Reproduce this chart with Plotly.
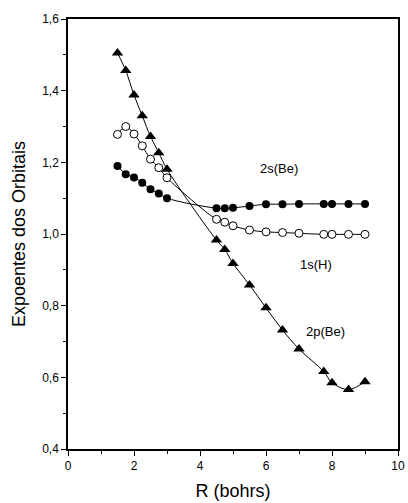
import plotly.graph_objects as go

R = [1.5, 1.75, 2.0, 2.25, 2.5, 2.75, 3.0, 4.5, 4.75, 5.0, 5.5, 6.0, 6.5, 7.0, 7.75, 8.0, 8.5, 9.0]
exp_2s_Be = [1.190, 1.167, 1.158, 1.143, 1.125, 1.113, 1.100, 1.072, 1.072, 1.073, 1.078, 1.083,
             1.083, 1.084, 1.084, 1.084, 1.084, 1.084]
exp_1s_H = [1.278, 1.300, 1.279, 1.246, 1.209, 1.185, 1.157, 1.041, 1.033, 1.023, 1.011, 1.006,
            1.004, 1.002, 0.999, 0.999, 0.999, 0.999]
exp_2p_Be = [1.505, 1.456, 1.388, 1.330, 1.272, 1.227, 1.181, 0.983, 0.957, 0.918, 0.858, 0.794,
             0.732, 0.679, 0.616, 0.585, 0.566, 0.588]

x_ticks = [0, 2, 4, 6, 8, 10]
x_ticktext = ["0", "2", "4", "6", "8", "10"]
y_ticks = [0.4, 0.6, 0.8, 1.0, 1.2, 1.4, 1.6]
y_ticktext = ["0,4", "0,6", "0,8", "1,0", "1,2", "1,4", "1,6"]

labels = ["2s(Be)", "1s(H)", "2p(Be)"]
label_x = [6.38, 7.5, 7.8]
label_y = [1.184, 0.915, 0.727]

FONT = "Liberation Sans, Arial, sans-serif"

fig = go.Figure()
fig.add_trace(go.Scatter(
    x=R, y=exp_2p_Be, mode="lines+markers", line=dict(color="black", width=1, shape="spline"),
    marker=dict(symbol="triangle-up", size=10, color="black"), name="2p(Be)"))
fig.add_trace(go.Scatter(
    x=R, y=exp_1s_H, mode="lines+markers", line=dict(color="black", width=1, shape="spline"),
    marker=dict(symbol="circle", size=8, color="white", line=dict(color="black", width=1)), name="1s(H)"))
fig.add_trace(go.Scatter(
    x=R, y=exp_2s_Be, mode="lines+markers", line=dict(color="black", width=1, shape="spline"),
    marker=dict(symbol="circle", size=8, color="black"), name="2s(Be)"))

for t, xx, yy in zip(labels, label_x, label_y):
    fig.add_annotation(x=xx, y=yy, text=t, showarrow=False,
                       font=dict(family=FONT, size=13, color="black"))

fig.update_layout(
    width=408, height=503,
    margin=dict(l=68, r=10, t=19, b=54),
    paper_bgcolor="white", plot_bgcolor="white",
    showlegend=False,
    font=dict(family=FONT, color="black"),
)
fig.update_xaxes(
    range=[0, 10], tickvals=x_ticks, ticktext=x_ticktext, ticklabeloverflow="allow",
    automargin=False,
    showgrid=False, zeroline=False, showline=True, linecolor="black", linewidth=1.5, mirror=True,
    ticks="outside", ticklen=5, tickwidth=1.2, tickcolor="black",
    minor=dict(ticks="outside", ticklen=3, tickwidth=1, tickcolor="black", dtick=1, showgrid=False),
    tickfont=dict(size=12, family=FONT),
    title=dict(text="R (bohrs)", font=dict(size=18, family=FONT), standoff=12),
)
fig.update_yaxes(
    range=[0.4, 1.6], tickvals=y_ticks, ticktext=y_ticktext,
    automargin=False,
    showgrid=False, zeroline=False, showline=True, linecolor="black", linewidth=1.5, mirror=True,
    ticks="outside", ticklen=5, tickwidth=1.2, tickcolor="black",
    minor=dict(ticks="outside", ticklen=3, tickwidth=1, tickcolor="black", dtick=0.1, showgrid=False),
    tickfont=dict(size=12, family=FONT),
    title=dict(text="Expoentes dos Orbitais", font=dict(size=18, family=FONT), standoff=12),
)

# remove the default page margin so the 408x503 figure fills the window exactly
fig.write_html("out.html",
               config={"displayModeBar": False},
               post_script="document.body.style.margin='0';document.body.style.overflow='hidden';")
